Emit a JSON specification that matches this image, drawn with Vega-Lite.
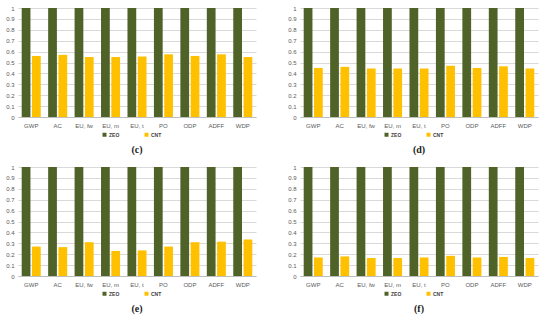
{
  "$schema": "https://vega.github.io/schema/vega-lite/v6.json",
  "background": "white",
  "padding": {"left": 5, "top": 5, "right": 2, "bottom": 2},
  "columns": 2,
  "spacing": {"row": 9, "column": 31},
  "resolve": {"legend": {"color": "independent"}},
  "config": {
    "view": {"stroke": null},
    "font": "Liberation Sans",
    "axis": {"labelFont": "Liberation Sans", "labelColor": "#595959", "labelFontSize": 6, "ticks": false, "title": null, "labelPadding": 4},
    "legend": {"labelFont": "Liberation Sans", "labelFontSize": 5, "labelFontWeight": "bold", "labelColor": "#404040", "symbolType": "square", "symbolSize": 16, "symbolStrokeWidth": 0, "columnPadding": 24, "labelOffset": 2},
    "title": {"font": "Liberation Serif", "fontSize": 10, "fontWeight": "bold", "color": "#222222"}
  },
  "data": {"values": [
    {"panel": "c", "cat": "GWP", "series": "ZEO", "value": 1}, {"panel": "c", "cat": "GWP", "series": "CNT", "value": 0.56},
    {"panel": "c", "cat": "AC", "series": "ZEO", "value": 1}, {"panel": "c", "cat": "AC", "series": "CNT", "value": 0.57},
    {"panel": "c", "cat": "EU, fw", "series": "ZEO", "value": 1}, {"panel": "c", "cat": "EU, fw", "series": "CNT", "value": 0.55},
    {"panel": "c", "cat": "EU, m", "series": "ZEO", "value": 1}, {"panel": "c", "cat": "EU, m", "series": "CNT", "value": 0.55},
    {"panel": "c", "cat": "EU, t", "series": "ZEO", "value": 1}, {"panel": "c", "cat": "EU, t", "series": "CNT", "value": 0.555},
    {"panel": "c", "cat": "PO", "series": "ZEO", "value": 1}, {"panel": "c", "cat": "PO", "series": "CNT", "value": 0.575},
    {"panel": "c", "cat": "ODP", "series": "ZEO", "value": 1}, {"panel": "c", "cat": "ODP", "series": "CNT", "value": 0.56},
    {"panel": "c", "cat": "ADFF", "series": "ZEO", "value": 1}, {"panel": "c", "cat": "ADFF", "series": "CNT", "value": 0.575},
    {"panel": "c", "cat": "WDP", "series": "ZEO", "value": 1}, {"panel": "c", "cat": "WDP", "series": "CNT", "value": 0.55},
    {"panel": "d", "cat": "GWP", "series": "ZEO", "value": 1}, {"panel": "d", "cat": "GWP", "series": "CNT", "value": 0.45},
    {"panel": "d", "cat": "AC", "series": "ZEO", "value": 1}, {"panel": "d", "cat": "AC", "series": "CNT", "value": 0.46},
    {"panel": "d", "cat": "EU, fw", "series": "ZEO", "value": 1}, {"panel": "d", "cat": "EU, fw", "series": "CNT", "value": 0.445},
    {"panel": "d", "cat": "EU, m", "series": "ZEO", "value": 1}, {"panel": "d", "cat": "EU, m", "series": "CNT", "value": 0.445},
    {"panel": "d", "cat": "EU, t", "series": "ZEO", "value": 1}, {"panel": "d", "cat": "EU, t", "series": "CNT", "value": 0.445},
    {"panel": "d", "cat": "PO", "series": "ZEO", "value": 1}, {"panel": "d", "cat": "PO", "series": "CNT", "value": 0.47},
    {"panel": "d", "cat": "ODP", "series": "ZEO", "value": 1}, {"panel": "d", "cat": "ODP", "series": "CNT", "value": 0.45},
    {"panel": "d", "cat": "ADFF", "series": "ZEO", "value": 1}, {"panel": "d", "cat": "ADFF", "series": "CNT", "value": 0.465},
    {"panel": "d", "cat": "WDP", "series": "ZEO", "value": 1}, {"panel": "d", "cat": "WDP", "series": "CNT", "value": 0.445},
    {"panel": "e", "cat": "GWP", "series": "ZEO", "value": 1}, {"panel": "e", "cat": "GWP", "series": "CNT", "value": 0.27},
    {"panel": "e", "cat": "AC", "series": "ZEO", "value": 1}, {"panel": "e", "cat": "AC", "series": "CNT", "value": 0.265},
    {"panel": "e", "cat": "EU, fw", "series": "ZEO", "value": 1}, {"panel": "e", "cat": "EU, fw", "series": "CNT", "value": 0.31},
    {"panel": "e", "cat": "EU, m", "series": "ZEO", "value": 1}, {"panel": "e", "cat": "EU, m", "series": "CNT", "value": 0.23},
    {"panel": "e", "cat": "EU, t", "series": "ZEO", "value": 1}, {"panel": "e", "cat": "EU, t", "series": "CNT", "value": 0.235},
    {"panel": "e", "cat": "PO", "series": "ZEO", "value": 1}, {"panel": "e", "cat": "PO", "series": "CNT", "value": 0.27},
    {"panel": "e", "cat": "ODP", "series": "ZEO", "value": 1}, {"panel": "e", "cat": "ODP", "series": "CNT", "value": 0.31},
    {"panel": "e", "cat": "ADFF", "series": "ZEO", "value": 1}, {"panel": "e", "cat": "ADFF", "series": "CNT", "value": 0.315},
    {"panel": "e", "cat": "WDP", "series": "ZEO", "value": 1}, {"panel": "e", "cat": "WDP", "series": "CNT", "value": 0.335},
    {"panel": "f", "cat": "GWP", "series": "ZEO", "value": 1}, {"panel": "f", "cat": "GWP", "series": "CNT", "value": 0.17},
    {"panel": "f", "cat": "AC", "series": "ZEO", "value": 1}, {"panel": "f", "cat": "AC", "series": "CNT", "value": 0.18},
    {"panel": "f", "cat": "EU, fw", "series": "ZEO", "value": 1}, {"panel": "f", "cat": "EU, fw", "series": "CNT", "value": 0.165},
    {"panel": "f", "cat": "EU, m", "series": "ZEO", "value": 1}, {"panel": "f", "cat": "EU, m", "series": "CNT", "value": 0.165},
    {"panel": "f", "cat": "EU, t", "series": "ZEO", "value": 1}, {"panel": "f", "cat": "EU, t", "series": "CNT", "value": 0.17},
    {"panel": "f", "cat": "PO", "series": "ZEO", "value": 1}, {"panel": "f", "cat": "PO", "series": "CNT", "value": 0.185},
    {"panel": "f", "cat": "ODP", "series": "ZEO", "value": 1}, {"panel": "f", "cat": "ODP", "series": "CNT", "value": 0.17},
    {"panel": "f", "cat": "ADFF", "series": "ZEO", "value": 1}, {"panel": "f", "cat": "ADFF", "series": "CNT", "value": 0.175},
    {"panel": "f", "cat": "WDP", "series": "ZEO", "value": 1}, {"panel": "f", "cat": "WDP", "series": "CNT", "value": 0.165}
  ]},
  "concat": [
    {
      "width": 238, "height": 109,
      "title": {"text": "(c)", "orient": "bottom", "offset": 7},
      "transform": [{"filter": "datum.panel === 'c'"}],
      "mark": {"type": "bar"},
      "encoding": {
        "x": {"field": "cat", "type": "nominal", "sort": ["GWP", "AC", "EU, fw", "EU, m", "EU, t", "PO", "ODP", "ADFF", "WDP"], "scale": {"paddingInner": 0.28, "paddingOuter": 0.14}, "axis": {"labelAngle": 0, "domainColor": "#bfbfbf", "labelPadding": 5}},
        "xOffset": {"field": "series", "sort": ["ZEO", "CNT"], "scale": {"paddingInner": 0.15, "paddingOuter": 0}},
        "y": {"field": "value", "type": "quantitative", "scale": {"domain": [0, 1]}, "axis": {"values": [0, 0.1, 0.2, 0.3, 0.4, 0.5, 0.6, 0.7, 0.8, 0.9, 1], "format": "~g", "domain": false, "gridColor": "#d9d9d9"}},
        "color": {"field": "series", "type": "nominal", "sort": ["ZEO", "CNT"], "scale": {"domain": ["ZEO", "CNT"], "range": ["#4f6228", "#ffc000"]}, "legend": {"title": null, "orient": "none", "direction": "horizontal", "legendX": 84, "legendY": 124}}
      }
    },
    {
      "width": 238, "height": 109,
      "title": {"text": "(d)", "orient": "bottom", "offset": 7},
      "transform": [{"filter": "datum.panel === 'd'"}],
      "mark": {"type": "bar"},
      "encoding": {
        "x": {"field": "cat", "type": "nominal", "sort": ["GWP", "AC", "EU, fw", "EU, m", "EU, t", "PO", "ODP", "ADFF", "WDP"], "scale": {"paddingInner": 0.28, "paddingOuter": 0.14}, "axis": {"labelAngle": 0, "domainColor": "#bfbfbf", "labelPadding": 5}},
        "xOffset": {"field": "series", "sort": ["ZEO", "CNT"], "scale": {"paddingInner": 0.15, "paddingOuter": 0}},
        "y": {"field": "value", "type": "quantitative", "scale": {"domain": [0, 1]}, "axis": {"values": [0, 0.1, 0.2, 0.3, 0.4, 0.5, 0.6, 0.7, 0.8, 0.9, 1], "format": "~g", "domain": false, "gridColor": "#d9d9d9"}},
        "color": {"field": "series", "type": "nominal", "sort": ["ZEO", "CNT"], "scale": {"domain": ["ZEO", "CNT"], "range": ["#4f6228", "#ffc000"]}, "legend": {"title": null, "orient": "none", "direction": "horizontal", "legendX": 84, "legendY": 124}}
      }
    },
    {
      "width": 238, "height": 109,
      "title": {"text": "(e)", "orient": "bottom", "offset": 7},
      "transform": [{"filter": "datum.panel === 'e'"}],
      "mark": {"type": "bar"},
      "encoding": {
        "x": {"field": "cat", "type": "nominal", "sort": ["GWP", "AC", "EU, fw", "EU, m", "EU, t", "PO", "ODP", "ADFF", "WDP"], "scale": {"paddingInner": 0.28, "paddingOuter": 0.14}, "axis": {"labelAngle": 0, "domainColor": "#bfbfbf", "labelPadding": 5}},
        "xOffset": {"field": "series", "sort": ["ZEO", "CNT"], "scale": {"paddingInner": 0.15, "paddingOuter": 0}},
        "y": {"field": "value", "type": "quantitative", "scale": {"domain": [0, 1]}, "axis": {"values": [0, 0.1, 0.2, 0.3, 0.4, 0.5, 0.6, 0.7, 0.8, 0.9, 1], "format": "~g", "domain": false, "gridColor": "#d9d9d9"}},
        "color": {"field": "series", "type": "nominal", "sort": ["ZEO", "CNT"], "scale": {"domain": ["ZEO", "CNT"], "range": ["#4f6228", "#ffc000"]}, "legend": {"title": null, "orient": "none", "direction": "horizontal", "legendX": 84, "legendY": 124}}
      }
    },
    {
      "width": 238, "height": 109,
      "title": {"text": "(f)", "orient": "bottom", "offset": 7},
      "transform": [{"filter": "datum.panel === 'f'"}],
      "mark": {"type": "bar"},
      "encoding": {
        "x": {"field": "cat", "type": "nominal", "sort": ["GWP", "AC", "EU, fw", "EU, m", "EU, t", "PO", "ODP", "ADFF", "WDP"], "scale": {"paddingInner": 0.28, "paddingOuter": 0.14}, "axis": {"labelAngle": 0, "domainColor": "#bfbfbf", "labelPadding": 5}},
        "xOffset": {"field": "series", "sort": ["ZEO", "CNT"], "scale": {"paddingInner": 0.15, "paddingOuter": 0}},
        "y": {"field": "value", "type": "quantitative", "scale": {"domain": [0, 1]}, "axis": {"values": [0, 0.1, 0.2, 0.3, 0.4, 0.5, 0.6, 0.7, 0.8, 0.9, 1], "format": "~g", "domain": false, "gridColor": "#d9d9d9"}},
        "color": {"field": "series", "type": "nominal", "sort": ["ZEO", "CNT"], "scale": {"domain": ["ZEO", "CNT"], "range": ["#4f6228", "#ffc000"]}, "legend": {"title": null, "orient": "none", "direction": "horizontal", "legendX": 84, "legendY": 124}}
      }
    }
  ]
}
